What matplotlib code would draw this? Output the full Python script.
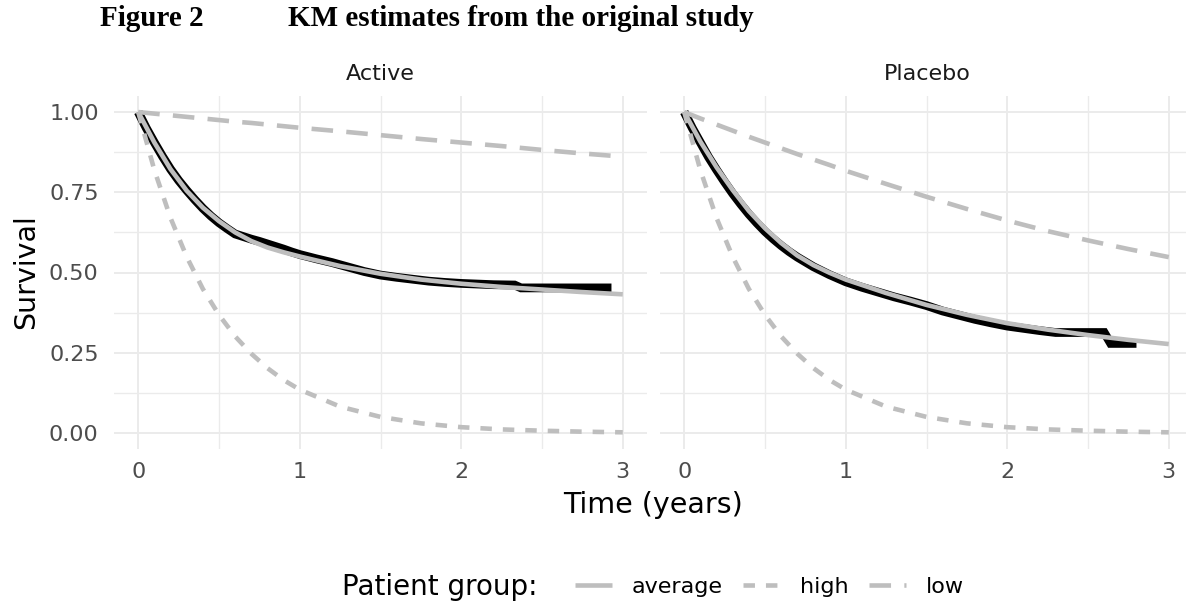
import matplotlib
matplotlib.use("Agg")
import matplotlib.pyplot as plt
from matplotlib.lines import Line2D

# KM estimates (black)
km_active_t = [0.00, 0.05, 0.10, 0.15, 0.20, 0.25, 0.30, 0.35, 0.40, 0.45, 0.50, 0.55,
               0.60, 0.65, 0.70, 0.75, 0.80, 0.85, 0.90, 0.95, 1.00, 1.10, 1.20, 1.30,
               1.40, 1.50, 1.60, 1.70, 1.80, 1.90, 2.00, 2.10, 2.20, 2.33, 2.37, 2.50, 2.93]
km_active_s = [1.000, 0.950, 0.905, 0.862, 0.822, 0.787, 0.756, 0.727, 0.700, 0.676, 0.655, 0.637,
               0.620, 0.612, 0.604, 0.597, 0.589, 0.581, 0.573, 0.564, 0.556, 0.543, 0.531, 0.517,
               0.503, 0.492, 0.485, 0.479, 0.473, 0.469, 0.466, 0.464, 0.462, 0.461, 0.452, 0.452, 0.452]

km_placebo_t = [0.00, 0.05, 0.10, 0.15, 0.20, 0.25, 0.30, 0.35, 0.40, 0.45, 0.50, 0.55,
                0.60, 0.65, 0.70, 0.75, 0.80, 0.90, 1.00, 1.10, 1.20, 1.30, 1.40, 1.50,
                1.60, 1.70, 1.80, 1.90, 2.00, 2.10, 2.20, 2.30, 2.60, 2.64, 2.80]
km_placebo_s = [1.000, 0.950, 0.905, 0.860, 0.820, 0.782, 0.746, 0.713, 0.682, 0.654, 0.628, 0.605,
                0.584, 0.565, 0.548, 0.533, 0.518, 0.493, 0.471, 0.454, 0.439, 0.424, 0.411, 0.397,
                0.380, 0.367, 0.354, 0.343, 0.333, 0.326, 0.319, 0.313, 0.313, 0.279, 0.279]

# fitted curves per patient group (grey)
fit_t = [0.0, 0.1, 0.2, 0.3, 0.4, 0.5, 0.6, 0.7, 0.8, 0.9, 1.0, 1.25, 1.5, 1.75,
         2.0, 2.25, 2.5, 2.75, 3.0]
avg_active = [1.000, 0.905, 0.822, 0.755, 0.702, 0.660, 0.625, 0.598, 0.578, 0.563, 0.550,
              0.520, 0.496, 0.478, 0.465, 0.455, 0.447, 0.439, 0.432]
avg_placebo = [1.000, 0.908, 0.828, 0.757, 0.692, 0.638, 0.592, 0.553, 0.523, 0.499, 0.478,
               0.436, 0.399, 0.368, 0.342, 0.322, 0.305, 0.290, 0.277]
high_active = [1.000, 0.819, 0.670, 0.549, 0.449, 0.368, 0.301, 0.247, 0.202, 0.165, 0.135,
               0.082, 0.050, 0.030, 0.018, 0.011, 0.007, 0.004, 0.002]
high_placebo = high_active
low_active = [1.000, 0.995, 0.990, 0.985, 0.980, 0.975, 0.970, 0.966, 0.961, 0.956, 0.951,
              0.940, 0.928, 0.916, 0.905, 0.894, 0.882, 0.871, 0.861]
low_placebo = [1.000, 0.980, 0.961, 0.942, 0.923, 0.905, 0.887, 0.869, 0.852, 0.835, 0.817,
               0.776, 0.736, 0.698, 0.662, 0.629, 0.600, 0.573, 0.548]

panels = ["Active", "Placebo"]
groups = ["average", "high", "low"]

GREY = "#BEBEBE"
GRID = "#EBEBEB"
styles = {
    "average": dict(linestyle="-"),
    "high": dict(linestyle=(0, (2.5, 2.4))),
    "low": dict(linestyle=(0, (4.7, 2.9))),
}

W, H = 1186, 604
fig = plt.figure(figsize=(W / 100, H / 100), dpi=100)

ax_l = fig.add_axes([114 / W, 1 - 449 / H, 533 / W, 353 / H])
ax_r = fig.add_axes([660 / W, 1 - 449 / H, 533 / W, 353 / H])

data = {
    "Active": (km_active_t, km_active_s, avg_active, high_active, low_active),
    "Placebo": (km_placebo_t, km_placebo_s, avg_placebo, high_placebo, low_placebo),
}
strip_x = {"Active": 380, "Placebo": 927}

for ax, name in zip([ax_l, ax_r], panels):
    kt, ks, avg, high, low = data[name]
    ax.plot(kt, ks, color="black", lw=6.3, solid_capstyle="butt", solid_joinstyle="miter", zorder=3)
    ax.plot(fit_t, avg, color=GREY, lw=3.3, solid_capstyle="butt", zorder=4, **styles["average"])
    ax.plot(fit_t, high, color=GREY, lw=3.3, dash_capstyle="butt", zorder=4, **styles["high"])
    ax.plot(fit_t, low, color=GREY, lw=3.3, dash_capstyle="butt", zorder=4, **styles["low"])

    ax.set_xlim(-0.15, 3.15)
    ax.set_ylim(-0.05, 1.05)
    ax.set_xticks([0, 1, 2, 3])
    ax.set_xticks([0.5, 1.5, 2.5], minor=True)
    ax.set_yticks([0, 0.25, 0.5, 0.75, 1.0])
    ax.set_yticklabels(["0.00", "0.25", "0.50", "0.75", "1.00"])
    ax.set_yticks([0.125, 0.375, 0.625, 0.875], minor=True)
    ax.grid(which="major", color=GRID, lw=1.4, zorder=0)
    ax.grid(which="minor", color=GRID, lw=1.0, zorder=0)
    ax.set_axisbelow(True)
    for s in ax.spines.values():
        s.set_visible(False)
    ax.tick_params(which="both", length=0, labelsize=16, labelcolor="#4D4D4D")
    ax.tick_params(axis="x", pad=9)
    ax.tick_params(axis="y", pad=11)

    # strip label
    fig.text(strip_x[name] / W, 1 - 80 / H, name,
             ha="center", va="baseline", fontsize=16, color="#1A1A1A")

ax_r.tick_params(axis="y", labelleft=False)

# titles
fig.text(100 / W, 1 - 26 / H, "Figure 2", fontsize=21, fontweight="bold",
         family="Liberation Serif", va="baseline")
fig.text(288 / W, 1 - 26 / H, "KM estimates from the original study", fontsize=21,
         fontweight="bold", family="Liberation Serif", va="baseline")

fig.text(653 / W, 1 - 513 / H, "Time (years)", fontsize=20.5, ha="center", va="baseline")
fig.text(26 / W, 1 - 272 / H, "Survival", fontsize=20.5, rotation=90, ha="center", va="center")

# legend
fig.text(342 / W, 1 - 587 / H, "Patient group:", fontsize=20, va="center")
handles = [Line2D([], [], color=GREY, lw=3.3, dash_capstyle="butt", solid_capstyle="butt",
                  **styles[g]) for g in groups]
fig.legend(handles, groups, loc="center left", bbox_to_anchor=(575 / W, 1 - 587 / H),
           ncol=3, frameon=False, fontsize=16, handlelength=1.67, handletextpad=0.9,
           columnspacing=0.9, borderpad=0, borderaxespad=0)

fig.savefig("out.png", dpi=100)
